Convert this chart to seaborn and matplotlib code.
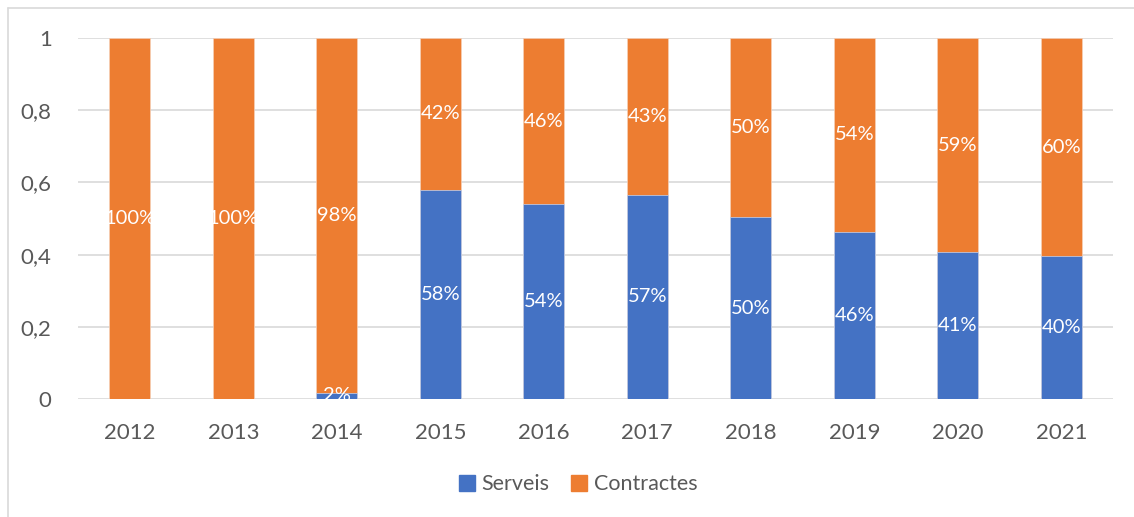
import matplotlib
matplotlib.use("Agg")
import matplotlib.pyplot as plt
import pandas as pd
import seaborn as sns
from matplotlib.lines import Line2D
from matplotlib.patches import Patch

sns.set_theme(style="white")
plt.rcParams['font.family'] = ['Lato', 'DejaVu Sans']

years = ['2012', '2013', '2014', '2015', '2016', '2017', '2018', '2019', '2020', '2021']
serveis = [0.0, 0.0, 0.018, 0.579, 0.540, 0.566, 0.504, 0.463, 0.407, 0.396]
contractes = [1.0, 1.0, 0.982, 0.421, 0.460, 0.434, 0.496, 0.537, 0.593, 0.604]
yticks = [0, 0.2, 0.4, 0.6, 0.8, 1]
ytick_labels = ['0', '0,2', '0,4', '0,6', '0,8', '1']

blue = '#4472C4'
orange = '#ED7D31'
grey_text = '#595959'
grid_col = '#D9D9D9'

df = pd.DataFrame({'year': years, 'serveis': serveis, 'contractes': contractes})
df['total'] = df['serveis'] + df['contractes']

fig = plt.figure(figsize=(11.34, 5.17), dpi=100)
ax = fig.add_axes([0.0688, 0.2282, 0.9127, 0.6983])

# gridlines behind bars
for t in yticks:
    ax.axhline(t, color=grid_col, lw=1.2, zorder=0)

# stacked: full bar in orange, serveis drawn over it in blue
sns.barplot(data=df, x='year', y='total', color=orange, width=0.4,
            saturation=1, ax=ax, zorder=2, edgecolor='#F5D0B8', linewidth=0.5)
sns.barplot(data=df, x='year', y='serveis', color=blue, width=0.4,
            saturation=1, ax=ax, zorder=3, edgecolor='#C8D4EE', linewidth=0.5)

for i, (s, c) in enumerate(zip(serveis, contractes)):
    if s > 0:
        ax.text(i, s / 2, f"{round(s * 100):.0f}%", ha='center', va='center',
                color='white', fontsize=14.5, zorder=4)
    ax.text(i, s + c / 2, f"{round(c * 100):.0f}%", ha='center', va='center',
            color='white', fontsize=14.5, zorder=4)

ax.set_xlim(-0.5, 9.5)
ax.set_ylim(0, 1)
ax.set_yticks(yticks)
ax.set_yticklabels(ytick_labels)
ax.set_xlabel('')
ax.set_ylabel('')
ax.tick_params(axis='both', length=0, labelsize=16, labelcolor=grey_text)
ax.tick_params(axis='x', pad=17)
ax.tick_params(axis='y', pad=19)
for sp in ax.spines.values():
    sp.set_visible(False)

handles = [Patch(color=blue, label='Serveis'), Patch(color=orange, label='Contractes')]
leg = fig.legend(handles=handles, loc='center', bbox_to_anchor=(0.51, 0.063),
                 ncol=2, frameon=False, fontsize=15.5, handlelength=0.75,
                 handleheight=0.75, handletextpad=0.3, columnspacing=1.0)
for t in leg.get_texts():
    t.set_color(grey_text)

# chart border (top and left visible in reference)
fig.add_artist(Line2D([8 / 1134, 1.0], [1 - 8 / 517, 1 - 8 / 517],
                      transform=fig.transFigure, color=grid_col, lw=1.2))
fig.add_artist(Line2D([8 / 1134, 8 / 1134], [0, 1 - 8 / 517],
                      transform=fig.transFigure, color=grid_col, lw=1.2))

fig.savefig('out.png', dpi=100)
